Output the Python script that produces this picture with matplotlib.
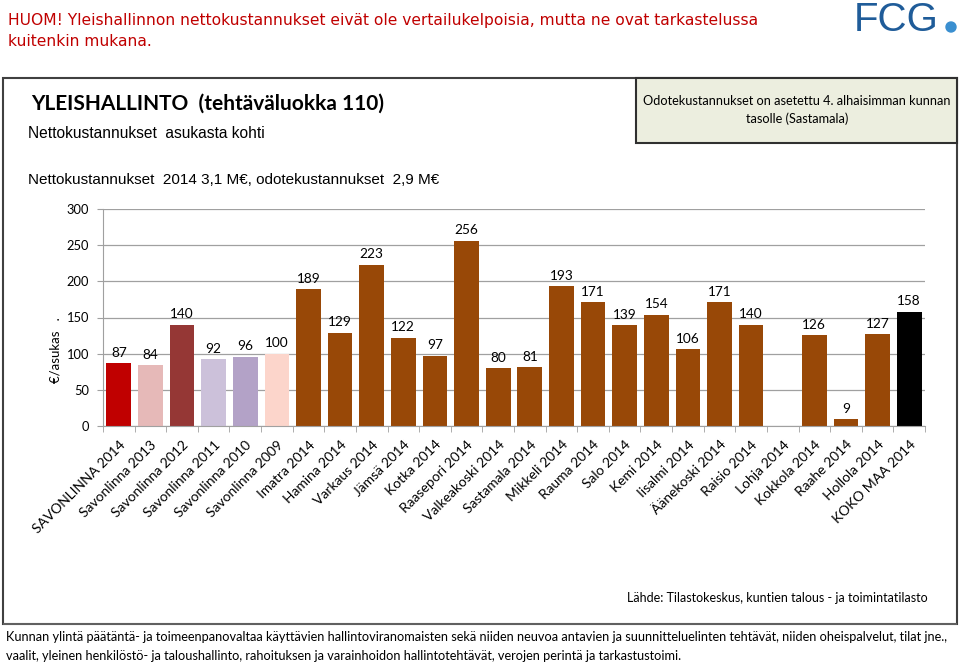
import matplotlib.pyplot as plt
from matplotlib.patches import Rectangle, Ellipse
import numpy as np

kunnat = ['SAVONLINNA 2014', 'Savonlinna 2013', 'Savonlinna 2012', 'Savonlinna 2011',
          'Savonlinna 2010', 'Savonlinna 2009', 'Imatra 2014', 'Hamina 2014',
          'Varkaus 2014', 'Jämsä 2014', 'Kotka 2014', 'Raasepori 2014',
          'Valkeakoski 2014', 'Sastamala 2014', 'Mikkeli 2014', 'Rauma 2014',
          'Salo 2014', 'Kemi 2014', 'Iisalmi 2014', 'Äänekoski 2014', 'Raisio 2014',
          'Lohja 2014', 'Kokkola 2014', 'Raahe 2014', 'Hollola 2014', 'KOKO MAA 2014']
arvot = [87, 84, 140, 92, 96, 100, 189, 129, 223, 122, 97, 256, 80, 81, 193, 171,
         139, 154, 106, 171, 140, None, 126, 9, 127, 158]
ruskea = '#984807'
varit = ['#C00000', '#E6B9B8', '#953735', '#CCC1DA', '#B3A2C7', '#FCD5CB'] + \
        [ruskea] * 19 + ['#000000']

W, H = 960, 663
fig = plt.figure(figsize=(W / 100, H / 100), dpi=100)

def fx(x):
    return x / W

def fy(y):
    return 1 - y / H

# kehykset
fig.add_artist(Rectangle((fx(3), fy(624)), fx(954), (624 - 78) / H, transform=fig.transFigure,
                         fill=False, edgecolor='#404040', lw=1.5))
fig.add_artist(Rectangle((fx(3), fy(625)), fx(954), 2.5 / H, transform=fig.transFigure,
                         facecolor='#606060', edgecolor='none'))
fig.add_artist(Rectangle((fx(636), fy(143)), fx(321), 65 / H, transform=fig.transFigure,
                         facecolor='#ECEEDF', edgecolor='#303030', lw=1.5))

# otsikkotekstit
fig.text(fx(8), fy(20), 'HUOM! Yleishallinnon nettokustannukset eivät ole vertailukelpoisia, mutta ne ovat tarkastelussa',
         color='#C00000', fontsize=11.2, family='DejaVu Sans', va='center')
fig.text(fx(8), fy(42), 'kuitenkin mukana.', color='#C00000', fontsize=11.2,
         family='DejaVu Sans', va='center')
fig.text(fx(896), fy(20), 'FCG', color='#1F5C99', fontsize=29, family='Liberation Sans',
         ha='center', va='center')
fig.add_artist(Ellipse((fx(951), fy(27)), 10 / W, 10 / H, transform=fig.transFigure,
                       color='#3A8FD0'))

fig.text(fx(31), fy(104), 'YLEISHALLINTO  (tehtäväluokka 110)', fontsize=15, weight='bold',
         family='Lato', va='center')
fig.text(fx(28), fy(133), 'Nettokustannukset  asukasta kohti', fontsize=11.2,
         family='Liberation Sans', va='center')
fig.text(fx(28), fy(180), 'Nettokustannukset  2014 3,1 M€, odotekustannukset  2,9 M€', fontsize=11,
         family='Liberation Sans', va='center')
fig.text(fx(797), fy(110), 'Odotekustannukset on asetettu 4. alhaisimman kunnan\ntasolle (Sastamala)',
         fontsize=9.2, family='Lato', ha='center', va='center', linespacing=1.5)

# kaavio
ax = fig.add_axes([fx(103), fy(426), fx(925 - 103), (426 - 209) / H])
x = np.arange(len(kunnat))
korkeudet = [0 if a is None else a for a in arvot]
ax.bar(x, korkeudet, width=0.78, color=varit)
for i, a in enumerate(arvot):
    if a is not None:
        ax.text(i, a + 6, str(a), ha='center', va='bottom', fontsize=9.8, family='Lato')

ax.set_xlim(-0.5, len(kunnat) - 0.5)
ax.set_ylim(0, 300)
ax.set_yticks(range(0, 301, 50))
ax.yaxis.grid(True, color='#A0A0A0', lw=0.9)
ax.set_axisbelow(True)
for s in ['top', 'right']:
    ax.spines[s].set_visible(False)
for s in ['left', 'bottom']:
    ax.spines[s].set_color('#A0A0A0')
ax.tick_params(axis='y', colors='#A0A0A0', labelcolor='black', labelsize=9.3, length=4, pad=6)
ax.set_xticks(x)
ax.set_xticklabels(kunnat, rotation=45, ha='right', rotation_mode='anchor', fontsize=10,
                   family='Lato')
ax.set_xticks(np.arange(-0.5, len(kunnat)), minor=True)
ax.tick_params(axis='x', which='major', length=0, pad=9)
ax.tick_params(axis='x', which='minor', length=4, color='#A0A0A0')
for t in ax.get_yticklabels():
    t.set_family('Lato')

fig.text(fx(56), fy(350), '€/asukas   .', rotation=90, fontsize=9.5, family='Lato',
         ha='center', va='center')

# lähde ja selitys
fig.text(fx(928), fy(598), 'Lähde: Tilastokeskus, kuntien talous - ja toimintatilasto', fontsize=9,
         family='Lato', ha='right', va='center')
fig.text(fx(6), fy(637), 'Kunnan ylintä päätäntä- ja toimeenpanovaltaa käyttävien hallintoviranomaisten sekä niiden neuvoa antavien ja suunnitteluelinten tehtävät, niiden oheispalvelut, tilat jne.,',
         fontsize=9.15, family='Lato', va='center')
fig.text(fx(6), fy(656), 'vaalit, yleinen henkilöstö- ja taloushallinto, rahoituksen ja varainhoidon hallintotehtävät, verojen perintä ja tarkastustoimi.',
         fontsize=9.15, family='Lato', va='center')

fig.savefig('out.png', dpi=100)
